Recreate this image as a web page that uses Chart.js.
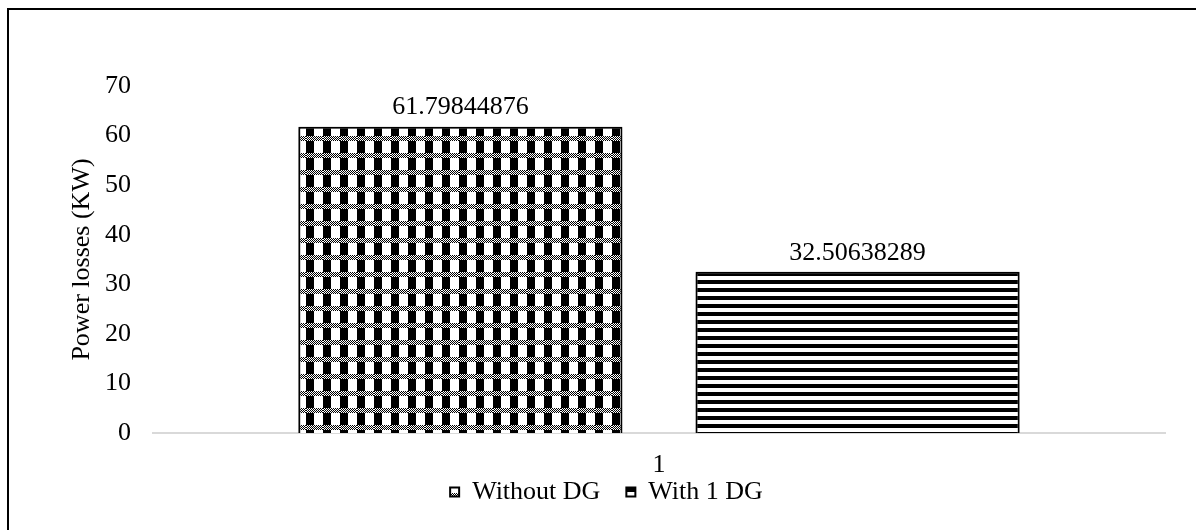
<!DOCTYPE html>
<html>
<head>
<meta charset="utf-8">
<script src="https://cdn.jsdelivr.net/npm/chart.js@4.4.0/dist/chart.umd.min.js"></script>
<style>
  html, body { margin: 0; padding: 0; background: #fff; }
  #wrap { width: 1196px; height: 530px; position: relative; }
</style>
</head>
<body>
<div id="wrap"><canvas id="myChart"></canvas></div>
<script>
const categories = ['1'];
const seriesNames = ['Without DG', 'With 1 DG'];
const withoutDG = [61.79844876];
const with1DG = [32.50638289];
const yTicks = [0, 10, 20, 30, 40, 50, 60, 70];

// checkered pattern for first series
function checkerPattern() {
  var c = document.createElement('canvas');
  c.width = 17; c.height = 17;
  var g = c.getContext('2d');
  g.fillStyle = '#fff';
  g.fillRect(0, 0, 17, 17);
  g.fillStyle = '#000';
  for (var y = 0; y < 5; y++) {
    for (var x = 0; x < 17; x++) {
      if ((x + y) % 2 == 0) g.fillRect(x, y, 1, 1);
    }
  }
  g.fillRect(0, 5, 8, 12);
  return g.createPattern(c, 'repeat');
}

// horizontal stripes for second series
function stripePattern() {
  var c = document.createElement('canvas');
  c.width = 8; c.height = 8;
  var g = c.getContext('2d');
  g.fillStyle = '#fff';
  g.fillRect(0, 0, 8, 8);
  g.fillStyle = '#000';
  g.fillRect(0, 0, 8, 4);
  return g.createPattern(c, 'repeat');
}

const frame = {
  id: 'frame',
  beforeDraw: function(chart) {
    var ctx = chart.ctx;
    ctx.save();
    ctx.fillStyle = '#fff';
    ctx.fillRect(0, 0, chart.width, chart.height);
    ctx.strokeStyle = '#000';
    ctx.lineWidth = 2;
    ctx.beginPath();
    ctx.moveTo(8, chart.height + 5);
    ctx.lineTo(8, 9);
    ctx.lineTo(chart.width + 5, 9);
    ctx.stroke();
    ctx.restore();
  },
  afterLayout: function(chart) {
    // legend sits a bit right of the centre in the original
    chart.legend.left += 24;
    chart.legend.right += 24;
  }
};

const valueLabels = {
  id: 'valueLabels',
  beforeDatasetsDraw: function(chart) {
    var ctx = chart.ctx;
    ctx.save();
    ctx.shadowColor = 'rgba(0,0,0,0.35)';
    ctx.shadowBlur = 3;
    ctx.shadowOffsetX = -1;
    ctx.shadowOffsetY = 1;
  },
  afterDatasetsDraw: function(chart) {
    var ctx = chart.ctx;
    ctx.restore();
    ctx.save();
    ctx.font = '26px "Liberation Serif"';
    ctx.fillStyle = '#000';
    ctx.textAlign = 'center';
    ctx.textBaseline = 'bottom';
    chart.data.datasets.forEach(function(ds, i) {
      chart.getDatasetMeta(i).data.forEach(function(bar, j) {
        ctx.fillText(ds.data[j].toFixed(8), bar.x, bar.y - 6);
      });
    });
    ctx.restore();
  }
};

Chart.defaults.font.family = '"Liberation Serif", "Times New Roman", serif';
Chart.defaults.font.size = 26;
Chart.defaults.color = '#000';

var ctx = document.getElementById('myChart').getContext('2d');
var myChart = new Chart(ctx, {
  type: 'bar',
  data: {
    labels: categories,
    datasets: [{
      label: seriesNames[0],
      data: withoutDG,
      backgroundColor: checkerPattern(),
      borderColor: '#000',
      borderWidth: 2
    }, {
      label: seriesNames[1],
      data: with1DG,
      backgroundColor: stripePattern(),
      borderColor: '#000',
      borderWidth: 2
    }]
  },
  options: {
    responsive: true,
    maintainAspectRatio: false,
    animation: false,
    categoryPercentage: 0.785,
    barPercentage: 0.816,
    layout: { padding: { left: 0, right: 31, top: 86, bottom: 15 } },
    plugins: {
      legend: {
        display: true,
        position: 'bottom',
        labels: { boxWidth: 9, boxHeight: 9, padding: 26 }
      },
      tooltip: { enabled: false }
    },
    scales: {
      x: {
        afterFit: function(scale) {
          scale.height = 20;
          // let the tick label hang below the shortened axis box
          scale._computeLabelArea = function() { return undefined; };
        },
        grid: { display: false, drawTicks: false },
        border: { display: true, color: '#d9d9d9', width: 2 },
        ticks: { padding: 17 }
      },
      y: {
        min: 0,
        max: 70,
        afterFit: function(scale) { scale.width = 153; },
        afterBuildTicks: function(scale) {
          scale.ticks = yTicks.map(function(v) { return { value: v }; });
        },
        grid: { display: false, drawTicks: false },
        border: { display: false },
        ticks: { padding: 22 },
        title: {
          display: true,
          text: 'Power losses (KW)',
          padding: { top: 67, bottom: 0 }
        }
      }
    }
  },
  plugins: [frame, valueLabels]
});
</script>
</body>
</html>
